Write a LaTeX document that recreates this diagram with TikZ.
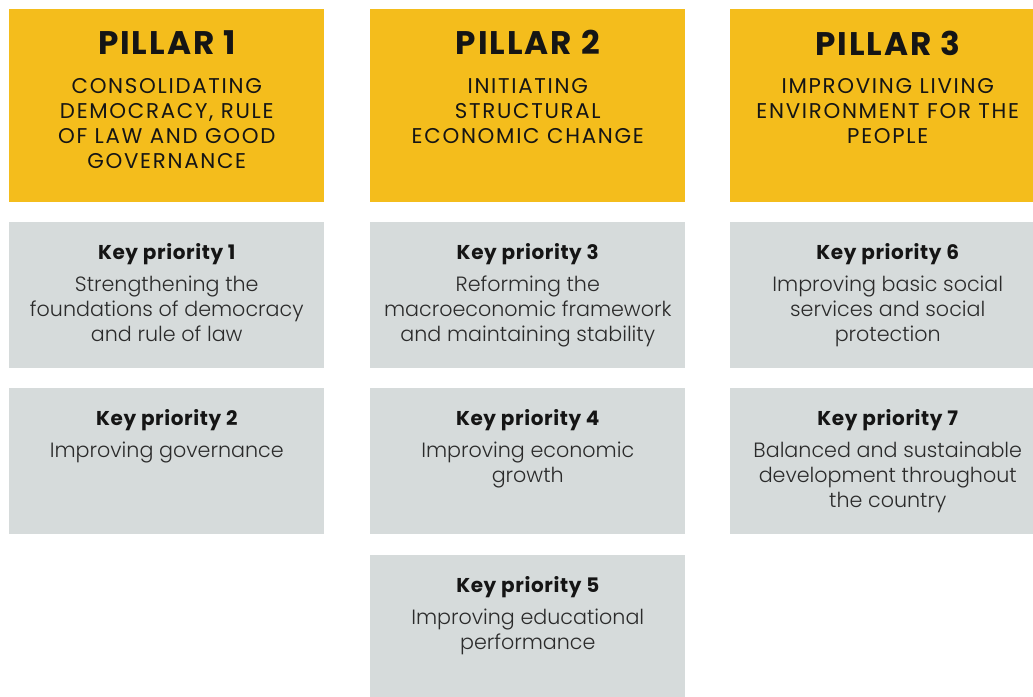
\documentclass[tikz,border=0pt]{standalone}
\usepackage{fontspec}
\setmainfont{Poppins}
\newfontfamily\lightfont{Poppins}[UprightFont={* Light}]
\usepackage{xcolor}
\usepackage{tikz}
\usetikzlibrary{positioning}
\definecolor{pillaryellow}{HTML}{F4BD1C}
\definecolor{prioritygray}{HTML}{D6DBDB}
\definecolor{textdark}{HTML}{151515}
\definecolor{textbody}{HTML}{2B2B2B}
\tikzset{
    pillarbox/.style={fill=pillaryellow, inner sep=0pt, anchor=north west, minimum width=236.25pt, minimum height=144.75pt},
    keybox/.style={fill=prioritygray, inner sep=0pt, anchor=north west, minimum width=236.25pt, minimum height=109.5pt},
    pillartitle/.style={inner sep=0pt, text=textdark, font=\bfseries\fontsize{24.5}{26}\selectfont\addfontfeatures{LetterSpace=6}},
    pillarsub/.style={inner sep=0pt, align=center, text=textdark, font=\fontsize{16}{18.75}\selectfont\addfontfeatures{LetterSpace=8}},
    keytitle/.style={inner sep=0pt, text=textdark, font=\bfseries\fontsize{15}{17}\selectfont\addfontfeatures{LetterSpace=3}},
    keytext/.style={inner sep=0pt, align=center, text=textbody, font=\lightfont\fontsize{15.5}{19}\selectfont}}

\begin{document}
\begin{tikzpicture}[x=0.75pt,y=-0.75pt]
\useasboundingbox (0,0) rectangle (1033,697);
\begin{scope}
\clip (0,0) rectangle (1033,697);
% pillars
\node[pillarbox] (p1) at (9,9) {};
\node[pillarbox] (p2) at (370,9) {};
\node[pillarbox] (p3) at (730,9) {};
\node[pillartitle, below=16pt of p1.north] (p1t) {PILLAR 1};
\node[pillartitle, below=16pt of p2.north] (p2t) {PILLAR 2};
\node[pillartitle, below=16pt of p3.north] (p3t) {PILLAR 3};
\node[pillarsub, below=52pt of p1.north] {CONSOLIDATING\\DEMOCRACY, RULE\\OF LAW AND GOOD\\GOVERNANCE};
\node[pillarsub, below=52pt of p2.north] {INITIATING\\STRUCTURAL\\ECONOMIC CHANGE};
\node[pillarsub, below=52pt of p3.north] {IMPROVING LIVING\\ENVIRONMENT FOR THE\\PEOPLE};
% key priorities
\node[keybox] (k1) at (9,222) {};
\node[keybox] (k2) at (9,388) {};
\node[keybox] (k3) at (370,222) {};
\node[keybox] (k4) at (370,388) {};
\node[keybox] (k5) at (370,555) {};
\node[keybox] (k6) at (730,222) {};
\node[keybox] (k7) at (730,388) {};
\foreach \k/\t in {k1/1,k2/2,k3/3,k4/4,k5/5,k6/6,k7/7}
    \node[keytitle, below=16pt of \k.north] {Key priority \t};
\node[keytext, below=40pt of k1.north] {Strengthening the\\foundations of democracy\\and rule of law};
\node[keytext, below=40pt of k2.north] {Improving governance};
\node[keytext, below=40pt of k3.north] {Reforming the\\macroeconomic framework\\and maintaining stability};
\node[keytext, below=40pt of k4.north] {Improving economic\\growth};
\node[keytext, below=40pt of k5.north] {Improving educational\\performance};
\node[keytext, below=40pt of k6.north] {Improving basic social\\services and social\\protection};
\node[keytext, below=40pt of k7.north] {Balanced and sustainable\\development throughout\\the country};
\end{scope}
\end{tikzpicture}
\end{document}
